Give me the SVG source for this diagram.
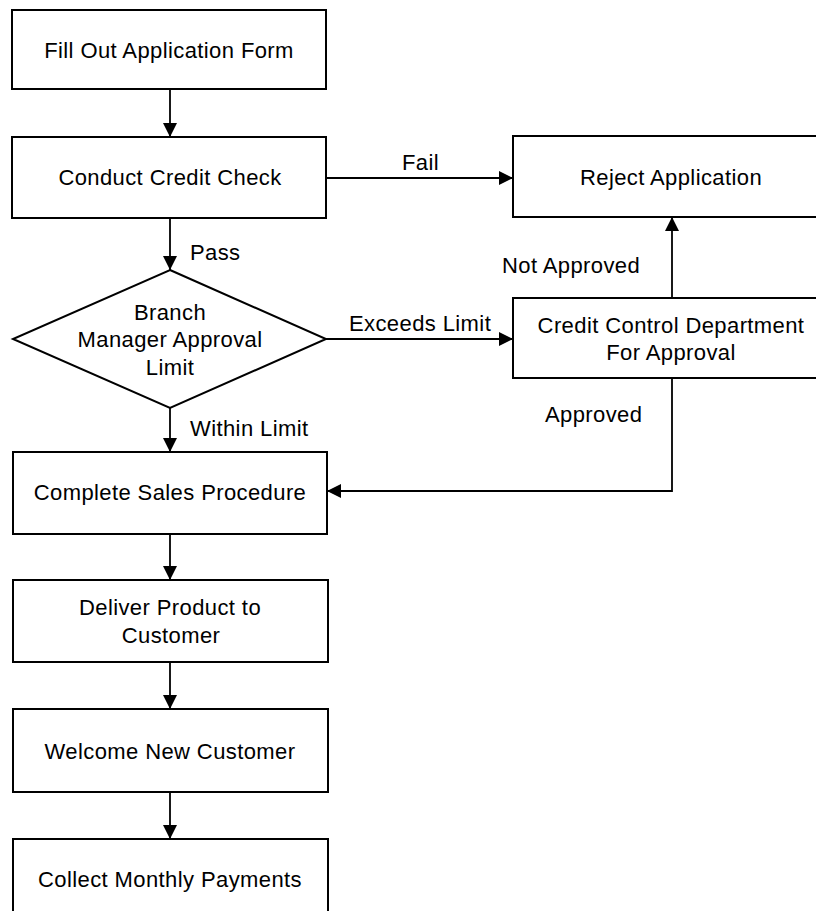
<svg xmlns="http://www.w3.org/2000/svg" width="816" height="911" viewBox="0 0 816 911">
  <defs>
    <marker id="arrow" viewBox="0 0 14 14" refX="14" refY="7" markerWidth="14" markerHeight="14" markerUnits="userSpaceOnUse" orient="auto">
      <path d="M0,0 L14,7 L0,14 Z" fill="#000"/>
    </marker>
  </defs>
  <style>
    .box { fill: #fff; stroke: #000; stroke-width: 2; }
    .edge { fill: none; stroke: #000; stroke-width: 1.8; marker-end: url(#arrow); }
    text { font-family: "Liberation Sans", Arial, sans-serif; font-size: 22px; fill: #000; letter-spacing: 0.4px; }
    .c { text-anchor: middle; }
  </style>
  <rect width="816" height="911" fill="#fff"/>

  <g id="connectors">
    <path class="edge" d="M170,89 L170,137"/>
    <path class="edge" d="M326,178 L513,178"/>
    <path class="edge" d="M170,218 L170,270"/>
    <path class="edge" d="M326,339 L513,339"/>
    <path class="edge" d="M672,298 L672,217"/>
    <path class="edge" d="M672,378 L672,491 L327,491"/>
    <path class="edge" d="M170,408 L170,452"/>
    <path class="edge" d="M170,534 L170,580"/>
    <path class="edge" d="M170,662 L170,709"/>
    <path class="edge" d="M170,792 L170,839"/>
    <text x="402" y="170">Fail</text>
    <text x="190" y="260">Pass</text>
    <text x="349" y="331">Exceeds Limit</text>
    <text x="502" y="273">Not Approved</text>
    <text x="545" y="422">Approved</text>
    <text x="190" y="436">Within Limit</text>
  </g>

  <g id="fill-out">
    <rect class="box" x="12" y="10" width="314" height="79"/>
    <text class="c" x="169" y="58">Fill Out Application Form</text>
  </g>
  <g id="credit-check">
    <rect class="box" x="12" y="137" width="314" height="81"/>
    <text class="c" x="170" y="185">Conduct Credit Check</text>
  </g>
  <g id="reject">
    <rect class="box" x="513" y="136" width="316" height="81"/>
    <text class="c" x="671" y="185">Reject Application</text>
  </g>
  <g id="branch-limit">
    <polygon class="box" points="170,270 326,339 170,408 13,339"/>
    <text class="c" x="170" y="320">Branch</text>
    <text class="c" x="170" y="347">Manager Approval</text>
    <text class="c" x="170" y="375">Limit</text>
  </g>
  <g id="credit-control">
    <rect class="box" x="513" y="298" width="316" height="80"/>
    <text class="c" x="671" y="333">Credit Control Department</text>
    <text class="c" x="671" y="360">For Approval</text>
  </g>
  <g id="sales-procedure">
    <rect class="box" x="13" y="452" width="314" height="82"/>
    <text class="c" x="170" y="500">Complete Sales Procedure</text>
  </g>
  <g id="deliver">
    <rect class="box" x="13" y="580" width="315" height="82"/>
    <text class="c" x="170" y="615">Deliver Product to</text>
    <text class="c" x="171" y="643">Customer</text>
  </g>
  <g id="welcome">
    <rect class="box" x="13" y="709" width="315" height="83"/>
    <text class="c" x="170" y="759">Welcome New Customer</text>
  </g>
  <g id="payments">
    <rect class="box" x="13" y="839" width="315" height="82"/>
    <text class="c" x="170" y="887">Collect Monthly Payments</text>
  </g>
</svg>
